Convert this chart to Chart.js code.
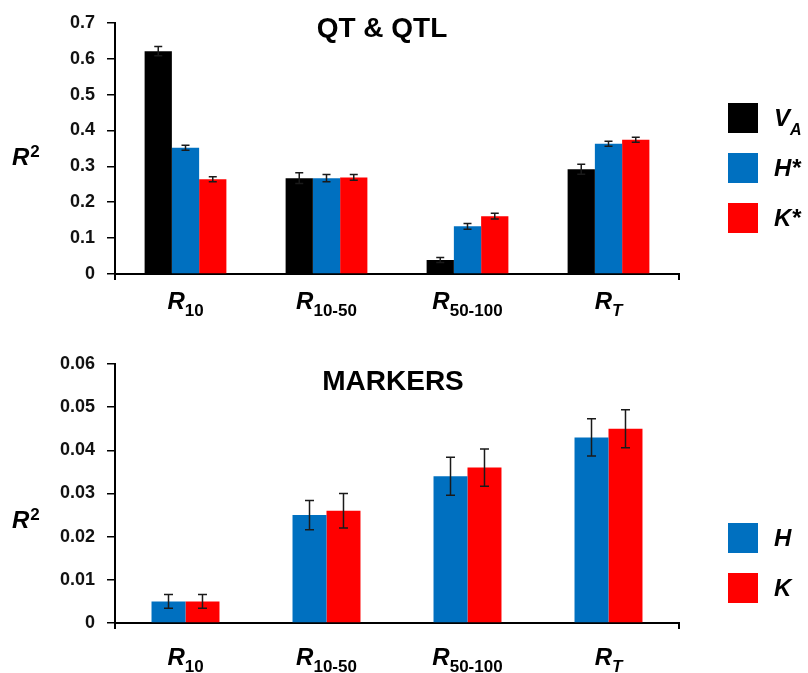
<!DOCTYPE html>
<html>
<head>
<meta charset="utf-8">
<script src="https://cdn.jsdelivr.net/npm/chart.js@4/dist/chart.umd.min.js"></script>
<style>
  html, body { margin: 0; padding: 0; background: #fff; }
  #wrap { position: relative; width: 808px; height: 673px; }
  canvas { position: absolute; left: 0; }
</style>
</head>
<body>
<div id="wrap">
  <canvas id="qtChart" width="808" height="336" style="top:0"></canvas>
  <canvas id="mkChart" width="808" height="337" style="top:336px"></canvas>
</div>
<script>
// Shared categories ("_" marks a subscript)
const categories = ['R_10', 'R_10-50', 'R_50-100', 'R_T'];
const yAxisLabel = 'R^2';

// Upper panel: QT & QTL
const qtTitle = 'QT & QTL';
const qtSeries = ['V_A', 'H*', 'K*'];
const qtVA    = [0.621, 0.267, 0.039, 0.292];
const qtVAErr = [0.013, 0.015, 0.007, 0.014];
const qtH     = [0.352, 0.267, 0.133, 0.363];
const qtHErr  = [0.007, 0.010, 0.008, 0.007];
const qtK     = [0.264, 0.269, 0.161, 0.374];
const qtKErr  = [0.007, 0.008, 0.008, 0.007];
const qtTicks = ['0', '0.1', '0.2', '0.3', '0.4', '0.5', '0.6', '0.7'];

// Lower panel: MARKERS
const mkTitle = 'MARKERS';
const mkSeries = ['H', 'K'];
const mkH    = [0.005, 0.025, 0.034, 0.043];
const mkHErr = [0.0016, 0.0034, 0.0044, 0.0043];
const mkK    = [0.005, 0.026, 0.036, 0.045];
const mkKErr = [0.0016, 0.0040, 0.0043, 0.0044];
const mkTicks = ['0', '0.01', '0.02', '0.03', '0.04', '0.05', '0.06'];

const FAMILY = "'Liberation Sans', Arial, Helvetica, sans-serif";
const BLACK = '#000000', BLUE = '#0070C0', RED = '#FF0000';

// Split "R_10" / "R^2" into base text and a sub/superscript part
function parseRich(s) {
  const m = s.match(/^([^_^]*)([_^])(.*)$/);
  if (!m) return { base: s, mark: null, small: '' };
  return { base: m[1], mark: m[2], small: m[3] };
}

function drawRich(ctx, s, x, y, o) {
  const p = parseRich(s);
  const baseFont = `italic bold ${o.size}px ${FAMILY}`;
  const smallItalic = /^[A-Za-z]+$/.test(p.small);
  const smallFont = `${smallItalic ? 'italic ' : ''}bold ${o.smallSize}px ${FAMILY}`;
  ctx.font = baseFont;
  const w1 = ctx.measureText(p.base).width;
  ctx.font = smallFont;
  const w2 = p.small ? ctx.measureText(p.small).width : 0;
  const x0 = o.align === 'center' ? x - (w1 + w2) / 2 : x;
  ctx.save();
  ctx.fillStyle = '#000';
  ctx.textAlign = 'left';
  ctx.textBaseline = 'alphabetic';
  ctx.font = baseFont;
  ctx.fillText(p.base, x0, y);
  if (p.small) {
    ctx.font = smallFont;
    const dy = p.mark === '_' ? o.subDy : -o.supDy;
    ctx.fillText(p.small, x0 + w1 + (o.gap || 0), y + dy);
  }
  ctx.restore();
}

function buildPanel(canvasId, spec) {
  const decor = {
    id: 'panelDecor',
    afterDatasetsDraw(chart) {
      // error bars
      const ctx = chart.ctx;
      const ys = chart.scales.y;
      ctx.save();
      ctx.strokeStyle = '#1a1a1a';
      ctx.lineWidth = 1.5;
      chart.data.datasets.forEach((ds, di) => {
        const meta = chart.getDatasetMeta(di);
        meta.data.forEach((bar, i) => {
          const v = ds.data[i], e = ds.errors[i];
          const yt = ys.getPixelForValue(v + e);
          const yb = ys.getPixelForValue(v - e);
          const x = bar.x, c = spec.cap;
          ctx.beginPath();
          ctx.moveTo(x, yt); ctx.lineTo(x, yb);
          ctx.moveTo(x - c, yt); ctx.lineTo(x + c, yt);
          ctx.moveTo(x - c, yb); ctx.lineTo(x + c, yb);
          ctx.stroke();
        });
      });
      ctx.restore();
    },
    afterDraw(chart) {
      const ctx = chart.ctx;
      const a = chart.chartArea;
      // axis stubs below the baseline
      ctx.save();
      ctx.strokeStyle = '#000';
      ctx.lineWidth = 2;
      ctx.beginPath();
      ctx.moveTo(a.left, a.bottom); ctx.lineTo(a.left, a.bottom + 6);
      ctx.moveTo(a.right, a.bottom); ctx.lineTo(a.right, a.bottom + 6);
      ctx.stroke();
      // title
      ctx.fillStyle = '#000';
      ctx.font = `bold 28px ${FAMILY}`;
      ctx.textAlign = 'center';
      ctx.textBaseline = 'alphabetic';
      ctx.fillText(spec.title, spec.titleX, spec.titleY);
      ctx.restore();
      // y axis label
      drawRich(ctx, yAxisLabel, 12, spec.yLabelY, { size: 24, smallSize: 17, supDy: 8, subDy: 0, gap: 1 });
      // category labels
      const xs = chart.scales.x;
      chart.data.labels.forEach((lab, i) => {
        drawRich(ctx, lab, xs.getPixelForTick(i), spec.xLabelY,
          { size: 24, smallSize: 17, subDy: 7, align: 'center', gap: 0 });
      });
      // legend
      chart.data.datasets.forEach((ds, i) => {
        const top = spec.legendTop + i * 50;
        ctx.save();
        ctx.fillStyle = ds.backgroundColor;
        ctx.fillRect(728, top, 30, 30);
        ctx.restore();
        drawRich(ctx, ds.label, 774, top + 23, { size: 24, smallSize: 16, subDy: 9, gap: 0 });
      });
    }
  };

  return new Chart(document.getElementById(canvasId), {
    type: 'bar',
    data: {
      labels: categories,
      datasets: spec.series.map((name, i) => ({
        label: name,
        data: spec.values[i],
        errors: spec.errors[i],
        backgroundColor: spec.colors[i],
        borderWidth: 0,
        barPercentage: 1,
        categoryPercentage: spec.catPct
      }))
    },
    options: {
      responsive: false,
      animation: false,
      devicePixelRatio: 1,
      layout: { padding: { top: spec.padTop, right: 129, left: 0, bottom: 0 } },
      plugins: { legend: { display: false }, tooltip: { enabled: false }, title: { display: false } },
      scales: {
        x: {
          grid: { display: false },
          border: { display: true, color: '#000', width: 2 },
          ticks: { display: false },
          afterFit(s) { s.height = spec.xHeight; }
        },
        y: {
          min: 0,
          max: spec.max,
          ticks: {
            stepSize: spec.step,
            callback: (v) => spec.tickLabels[Math.round(v / spec.step)],
            font: { family: FAMILY, size: 18, weight: 'bold' },
            color: '#111',
            padding: 12
          },
          grid: { drawOnChartArea: false, drawTicks: true, tickLength: 8, color: '#000', lineWidth: 1.5 },
          border: { display: true, color: '#000', width: 2 },
          afterFit(s) { s.width = 115; }
        }
      }
    },
    plugins: [decor]
  });
}

buildPanel('qtChart', {
  title: qtTitle, titleX: 382, titleY: 37,
  series: qtSeries,
  values: [qtVA, qtH, qtK],
  errors: [qtVAErr, qtHErr, qtKErr],
  colors: [BLACK, BLUE, RED],
  catPct: 0.58,
  max: 0.7, step: 0.1, tickLabels: qtTicks,
  padTop: 16, xHeight: 62,
  cap: 4,
  yLabelY: 165, xLabelY: 309, legendTop: 103
});

buildPanel('mkChart', {
  title: mkTitle, titleX: 393, titleY: 54,
  series: mkSeries,
  values: [mkH, mkK],
  errors: [mkHErr, mkKErr],
  colors: [BLUE, RED],
  catPct: 0.482,
  max: 0.06, step: 0.01, tickLabels: mkTicks,
  padTop: 28, xHeight: 50,
  cap: 4.5,
  yLabelY: 192, xLabelY: 329, legendTop: 187
});
</script>
</body>
</html>
